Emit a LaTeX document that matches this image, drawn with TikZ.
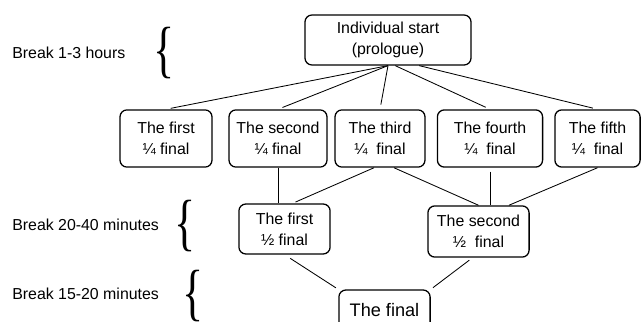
\documentclass[tikz,border=0pt]{standalone}
\usepackage{fontspec}
\usepackage{graphicx}
\setmainfont{Liberation Sans}
\newfontfamily\bracefont{Liberation Serif}
\usetikzlibrary{positioning}

\newcommand{\bigbrace}{\scalebox{1.3}[1.85]{\bracefont\fontsize{24}{24}\selectfont\{}}

\begin{document}
\begin{tikzpicture}[x=0.025cm,y=-0.025cm,
  box/.style={draw,rectangle,rounded corners=5pt,line width=0.9pt,align=center,inner sep=2pt,font=\fontsize{11.3}{15}\selectfont},
  link/.style={line width=0.6pt},
  breaktext/.style={anchor=west,inner sep=0pt,font=\fontsize{11.3}{14}\selectfont},
  bracket/.style={inner sep=0pt}]
\useasboundingbox (0,0) rectangle (644,322);
% Start
\node[box, minimum width=4.15cm, minimum height=1.25cm] (start) at (388,40) {Individual start\\(prologue)};
% Quarter finals
\node[box, minimum width=2.3cm, minimum height=1.43cm] (quarter-1) at (166,138.5) {The first\\¼ final};
\node[box, minimum width=2.45cm, minimum height=1.43cm] (quarter-2) at (278,138.5) {The second\\¼ final};
\node[box, minimum width=2.25cm, minimum height=1.43cm] (quarter-3) at (380,138.5) {The third\\¼~ final};
\node[box, minimum width=2.63cm, minimum height=1.43cm] (quarter-4) at (490,138.5) {The fourth\\¼~ final};
\node[box, minimum width=2.13cm, minimum height=1.43cm] (quarter-5) at (597.5,138.5) {The fifth\\¼~ final};
% Semi finals
\node[box, minimum width=2.28cm, minimum height=1.25cm] (semi-1) at (284.5,229) {The first\\½ final};
\node[box, minimum width=2.53cm, minimum height=1.28cm] (semi-2) at (478.5,231.5) {The second\\½~ final};
% Final
\node[box, minimum width=2.28cm, minimum height=1.0cm, font=\fontsize{12.9}{15}\selectfont] (final) at (384.5,310) {The final};
% Breaks
\node[breaktext] (break-A) at (12,53) {Break 1-3 hours};
\node[breaktext] (break-B) at (12,225) {Break 20-40 minutes};
\node[breaktext] (break-C) at (12,294) {Break 15-20 minutes};
\node[bracket] (brace-A) at (164,53) {\bigbrace};
\node[bracket] (brace-B) at (185,226) {\bigbrace};
\node[bracket] (brace-C) at (193,296) {\bigbrace};
% Links
\draw[link, shorten >=0.12cm] (start.south) -- (quarter-1.north);
\draw[link, shorten >=0.12cm] (start.south) -- (quarter-2.north);
\draw[link, shorten >=0.12cm] (start.south) -- (quarter-3.north);
\draw[link, shorten >=0.12cm] ([xshift=0.18cm]start.south) -- (quarter-4.north);
\draw[link, shorten >=0.12cm] ([xshift=0.78cm]start.south) -- (quarter-5.north);
\draw[link] (quarter-2.south) -- (quarter-2.south |- semi-1.north);
\draw[link, shorten >=0.08cm] ([xshift=-0.15cm]quarter-3.south) -- ([xshift=0.2cm]semi-1.north);
\draw[link] ([xshift=0.35cm]quarter-3.south) -- (semi-2.north);
\draw[link, shorten <=0.1cm] (quarter-4.south) -- (quarter-4.south |- semi-2.north);
\draw[link] (quarter-5.south) -- ([xshift=0.76cm]semi-2.north);
\draw[link, shorten <=0.17cm, shorten >=0.07cm] (semi-1.south) -- (final.north west);
\draw[link, shorten <=0.1cm, shorten >=0.07cm] ([xshift=-0.15cm]semi-2.south) -- (final.north east);
\end{tikzpicture}
\end{document}
